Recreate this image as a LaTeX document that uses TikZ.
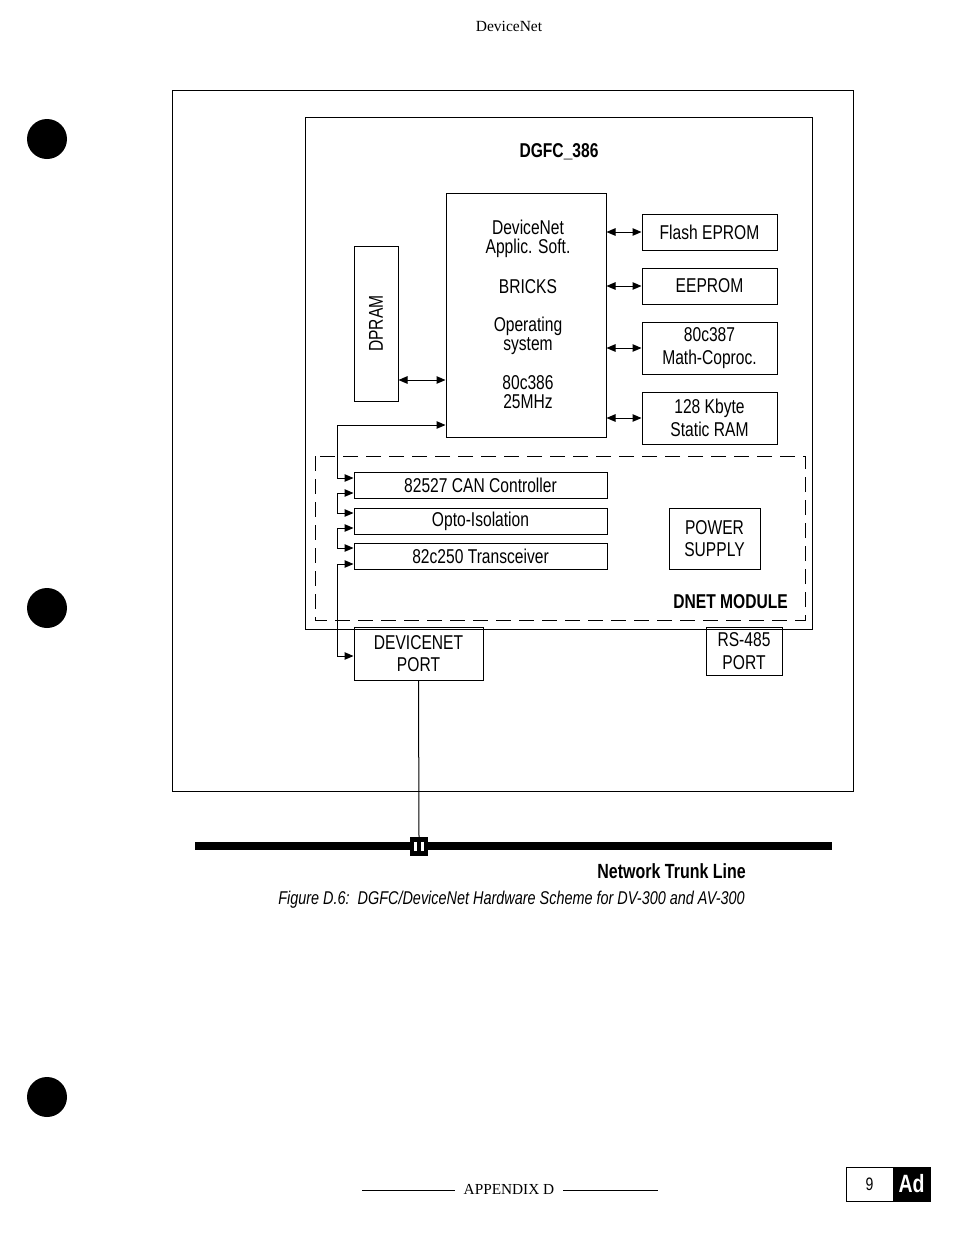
\documentclass[tikz,border=0pt]{standalone}
\usepackage{fontspec}
\setmainfont{Liberation Sans}[FakeStretch=0.78]
\newfontfamily\serif{Liberation Serif}
\usetikzlibrary{arrows.meta}
\begin{document}
\begin{tikzpicture}[x=1pt,y=-1pt,
  box/.style={draw, line width=1pt, inner sep=0pt, align=center, font=\fontsize{20}{22.5}\selectfont},
  txt/.style={inner sep=0pt, align=center, font=\fontsize{20}{19.5}\selectfont},
  bold/.style={inner sep=0pt, font=\fontsize{20}{22}\selectfont\bfseries},
  frame/.style={draw, line width=1pt},
  dashframe/.style={draw, line width=1pt, dash pattern=on 15pt off 8pt},
  link/.style={line width=1pt, {Triangle[length=9pt,width=7.5pt]}-{Triangle[length=9pt,width=7.5pt]}},
  plain/.style={line width=1pt}]
\useasboundingbox (0,0) rectangle (954,1240);
% header
\node[inner sep=0pt, font=\serif\fontsize{15.5}{17}\selectfont] (hdr) at (509,26) {DeviceNet};
% bullets
\fill (47,139) circle (20);
\fill (47,608) circle (20);
\fill (47,1097) circle (20);
% frames
\draw[frame] (172,90) rectangle (853,791);
\draw[frame] (305,117) rectangle (812,629);
\draw[dashframe] (315,456) rectangle (805,620);
\node[bold] (title) at (559,152) {DGFC\_386};
% cpu
\node[box, minimum width=160pt, minimum height=244pt] (cpu) at (526,315) {};
\node[txt] (t1) at (528,239) {DeviceNet\\Applic. Soft.};
\node[txt] (t2) at (528,287) {BRICKS};
\node[txt] (t3) at (528,336) {Operating\\system};
\node[txt] (t4) at (528,392) {80c386\\25MHz};
% memory boxes
\node[box, minimum width=135pt, minimum height=36pt] (flash) at (709.5,232) {Flash EPROM};
\node[box, minimum width=135pt, minimum height=36pt] (eeprom) at (709.5,286) {EEPROM};
\node[box, minimum width=135pt, minimum height=52pt] (copro) at (709.5,348) {80c387\\Math-Coproc.};
\node[box, minimum width=135pt, minimum height=52pt] (ram) at (709.5,418) {128 Kbyte\\Static RAM};
\node[box, minimum width=44pt, minimum height=155pt] (dpram) at (376,323.5) {};
\node[txt, rotate=90] (dpt) at (dpram.center) {DPRAM};
% module boxes
\node[box, minimum width=253pt, minimum height=26pt] (can) at (480.5,485) {82527 CAN Controller};
\node[box, minimum width=253pt, minimum height=26pt] (opto) at (480.5,521) {Opto-Isolation};
\node[box, minimum width=253pt, minimum height=26pt] (trans) at (480.5,556) {82c250 Transceiver};
\node[box, minimum width=91pt, minimum height=61pt] (power) at (714.5,538.5) {POWER\\SUPPLY};
\node[bold, anchor=east] (dnet) at (788,602) {DNET MODULE};
\node[box, minimum width=129pt, minimum height=53pt] (dnport) at (418.5,653.5) {DEVICENET\\PORT};
\node[box, minimum width=76pt, minimum height=48pt] (rsport) at (744,651) {RS-485\\PORT};
% links to memory
\draw[link] (cpu.east |- flash.west) -- (flash.west);
\draw[link] (cpu.east |- eeprom.west) -- (eeprom.west);
\draw[link] (cpu.east |- copro.west) -- (copro.west);
\draw[link] (cpu.east |- ram.west) -- (ram.west);
\coordinate (dpy) at (0,380);
\draw[link] (dpram.east |- dpy) -- (cpu.west |- dpy);
% left bus
\coordinate (bx) at (337,0);
\coordinate (y1) at (0,425);
\coordinate (y2) at (0,478);
\coordinate (y3) at (0,493);
\coordinate (y4) at (0,513);
\coordinate (y5) at (0,528);
\coordinate (y6) at (0,548);
\coordinate (y7) at (0,564);
\coordinate (y8) at (0,656);
\draw[link] (can.west |- y2) -| (bx |- y1) -- (cpu.west |- y1);
\draw[link] (can.west |- y3) -| (bx |- y4) -- (opto.west |- y4);
\draw[link] (opto.west |- y5) -| (bx |- y6) -- (trans.west |- y6);
\draw[link] (trans.west |- y7) -| (bx |- y8) -- (dnport.west |- y8);
% trunk line
\fill (195,842) rectangle (832,850);
\node[fill=black, minimum width=18pt, minimum height=19pt, inner sep=0pt] (tap) at (419,846.5) {};
\fill[white] (414,842) rectangle (417,851);
\fill[white] (421,842) rectangle (424,851);
\draw[plain] (dnport.south) -- (tap.north);
\node[inner sep=0pt, anchor=east, font=\fontsize{20.5}{22}\selectfont\bfseries] (ntl) at (746,871) {Network Trunk Line};
\node[inner sep=0pt, anchor=east, font=\fontsize{18.5}{20}\selectfont\itshape] (cap) at (745,900) {Figure D.6:\ \ DGFC/DeviceNet Hardware Scheme for DV-300 and AV-300};
% footer
\node[inner sep=0pt, font=\serif\fontsize{15.3}{17}\selectfont] (app) at (509,1189) {APPENDIX D};
\draw[line width=0.8pt] (362,1190) -- (455,1190);
\draw[line width=0.8pt] (563,1190) -- (658,1190);
\fill (893,1167) rectangle (930,1201);
\draw[line width=1pt] (846,1167) rectangle (930,1201);
\node[inner sep=0pt, font=\fontsize{18}{18}\selectfont] (pg) at (869.5,1184) {9};
\node[inner sep=0pt, text=white, font=\fontsize{25}{25}\selectfont\bfseries] (ad) at (911.5,1184) {Ad};
\end{tikzpicture}
\end{document}
